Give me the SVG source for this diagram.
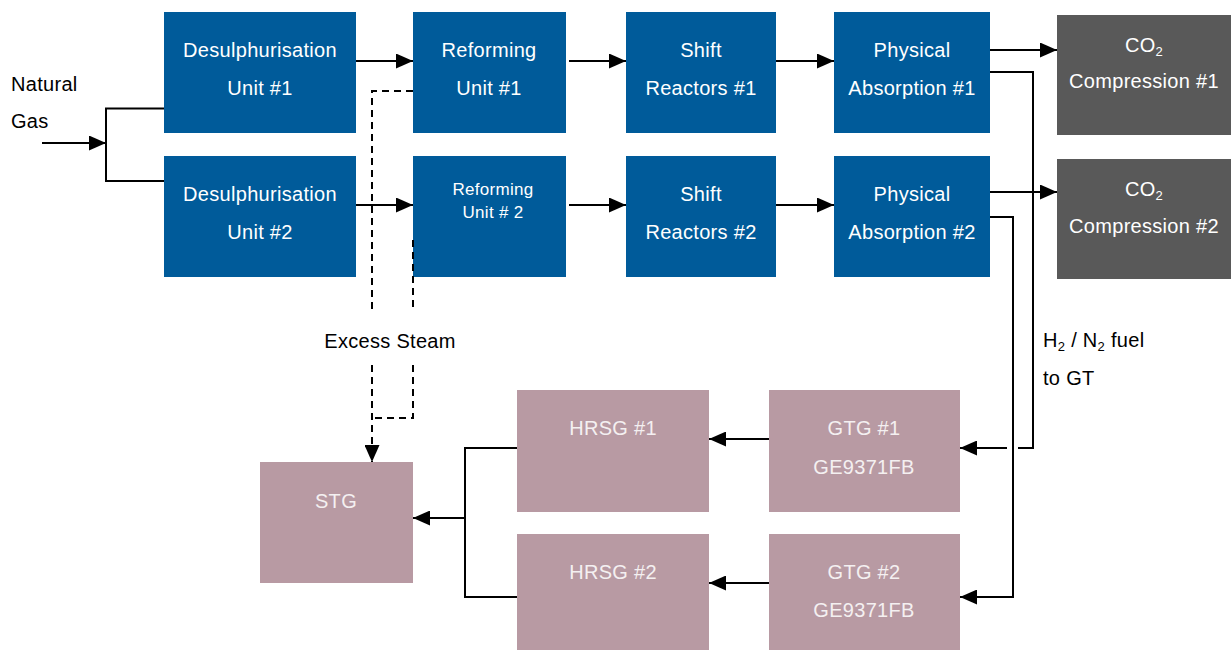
<svg xmlns="http://www.w3.org/2000/svg" width="1231" height="650" viewBox="0 0 1231 650">
<style>
  text { font-family: "Liberation Sans", Arial, sans-serif; font-size: 20px; letter-spacing: 0.3px; }
  .lbl { text-anchor: middle; fill: #ffffff; }
  .lblm { text-anchor: middle; fill: #f4f0f1; }
  .blk { fill: #000000; }
  .blue { fill: #005b9a; }
  .grey { fill: #595959; }
  .mauve { fill: #b89aa3; }
  .ln { fill: none; stroke: #000; stroke-width: 2; }
  .dash { fill: none; stroke: #000; stroke-width: 2; stroke-dasharray: 7 5; }
  .sub { font-size: 13px; }
</style>
<defs>
  <marker id="arr" markerUnits="userSpaceOnUse" markerWidth="17" markerHeight="15" refX="17" refY="7.5" orient="auto">
    <path d="M0,0 L17,7.5 L0,15 Z" fill="#000"/>
  </marker>
</defs>
<rect width="1231" height="650" fill="#fff"/>

<g id="natural-gas">
  <text class="blk" x="11" y="91">Natural</text>
  <text class="blk" x="11" y="128">Gas</text>
</g>

<g id="desulph1"><rect class="blue" x="164" y="12" width="192" height="121"/>
  <text class="lbl" x="260" y="57">Desulphurisation</text><text class="lbl" x="260" y="95">Unit #1</text></g>
<g id="desulph2"><rect class="blue" x="164" y="156" width="192" height="121"/>
  <text class="lbl" x="260" y="201">Desulphurisation</text><text class="lbl" x="260" y="239">Unit #2</text></g>

<g id="reform1"><rect class="blue" x="413" y="12" width="153" height="121"/>
  <text class="lbl" x="489" y="57">Reforming</text><text class="lbl" x="489" y="95">Unit #1</text></g>
<g id="reform2"><rect class="blue" x="413" y="156" width="153" height="121"/>
  <text class="lbl" x="493" y="195" style="font-size:17px">Reforming</text><text class="lbl" x="493" y="218" style="font-size:17px">Unit # 2</text></g>

<g id="shift1"><rect class="blue" x="626" y="12" width="150" height="121"/>
  <text class="lbl" x="701" y="57">Shift</text><text class="lbl" x="701" y="95">Reactors #1</text></g>
<g id="shift2"><rect class="blue" x="626" y="156" width="150" height="121"/>
  <text class="lbl" x="701" y="201">Shift</text><text class="lbl" x="701" y="239">Reactors #2</text></g>

<g id="abs1"><rect class="blue" x="834" y="12" width="156" height="121"/>
  <text class="lbl" x="912" y="57">Physical</text><text class="lbl" x="912" y="95">Absorption #1</text></g>
<g id="abs2"><rect class="blue" x="834" y="156" width="156" height="121"/>
  <text class="lbl" x="912" y="201">Physical</text><text class="lbl" x="912" y="239">Absorption #2</text></g>

<g id="co2comp1"><rect class="grey" x="1057" y="15" width="174" height="120"/>
  <text class="lbl" x="1144" y="52">CO<tspan class="sub" dy="4">2</tspan></text><text class="lbl" x="1144" y="88">Compression #1</text></g>
<g id="co2comp2"><rect class="grey" x="1057" y="159" width="174" height="120"/>
  <text class="lbl" x="1144" y="196">CO<tspan class="sub" dy="4">2</tspan></text><text class="lbl" x="1144" y="233">Compression #2</text></g>

<g id="hrsg1"><rect class="mauve" x="517" y="390" width="192" height="122"/>
  <text class="lblm" x="613" y="435">HRSG #1</text></g>
<g id="hrsg2"><rect class="mauve" x="517" y="534" width="192" height="116"/>
  <text class="lblm" x="613" y="579">HRSG #2</text></g>
<g id="gtg1"><rect class="mauve" x="769" y="390" width="191" height="122"/>
  <text class="lblm" x="864" y="435">GTG #1</text><text class="lblm" x="864" y="474">GE9371FB</text></g>
<g id="gtg2"><rect class="mauve" x="769" y="534" width="191" height="116"/>
  <text class="lblm" x="864" y="579">GTG #2</text><text class="lblm" x="864" y="617">GE9371FB</text></g>
<g id="stg"><rect class="mauve" x="260" y="462" width="153" height="121"/>
  <text class="lblm" x="336" y="508">STG</text></g>

<g id="labels">
  <text class="blk" x="390" y="348" text-anchor="middle">Excess Steam</text>
  <text class="blk" x="1043" y="347">H<tspan class="sub" dy="4">2</tspan><tspan dy="-4"> / N</tspan><tspan class="sub" dy="4">2</tspan><tspan dy="-4"> fuel</tspan></text>
  <text class="blk" x="1043" y="385">to GT</text>
</g>

<g id="connectors">
  <path class="ln" d="M42,143 H106" marker-end="url(#arr)"/>
  <path class="ln" d="M164,108.5 H106 V181 H164"/>
  <path class="ln" d="M356,61 H413" marker-end="url(#arr)"/>
  <path class="ln" d="M356,205 H413" marker-end="url(#arr)"/>
  <path class="ln" d="M569,61 H626" marker-end="url(#arr)"/>
  <path class="ln" d="M569,205 H626" marker-end="url(#arr)"/>
  <path class="ln" d="M776,61 H834" marker-end="url(#arr)"/>
  <path class="ln" d="M776,205 H834" marker-end="url(#arr)"/>
  <path class="ln" d="M990,50 H1057" marker-end="url(#arr)"/>
  <path class="ln" d="M990,192 H1057" marker-end="url(#arr)"/>
  <path class="ln" d="M990,72 H1033 V448 H1018"/>
  <path class="ln" d="M1007,448 H960" marker-end="url(#arr)"/>
  <path class="ln" d="M990,217 H1013 V597 H960" marker-end="url(#arr)"/>
  <path class="ln" d="M769,439 H709" marker-end="url(#arr)"/>
  <path class="ln" d="M769,583 H709" marker-end="url(#arr)"/>
  <path class="ln" d="M517,448 H465 V597 H517"/>
  <path class="ln" d="M465,518 H413" marker-end="url(#arr)"/>
  <path class="dash" d="M413,91 H372 V312"/>
  <path class="dash" d="M372,365 V462" marker-end="url(#arr)"/>
  <path class="dash" d="M413,240 V312"/>
  <path class="dash" d="M413,365 V418 H372"/>
</g>
</svg>
